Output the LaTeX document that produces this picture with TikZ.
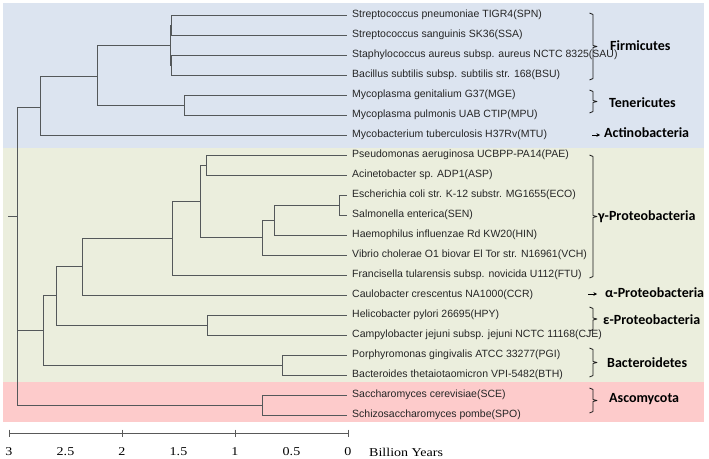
\documentclass[tikz,border=0pt]{standalone}
\usepackage{fontspec}
\setmainfont{Liberation Sans}
\newfontfamily\grpfont{Carlito}
\newfontfamily\axfont{Liberation Serif}[FakeStretch=1.17]
\usepackage{tikz}
\usetikzlibrary{positioning,arrows.meta,calc}
\usepackage{xcolor}
\definecolor{bandblue}{RGB}{220,228,240}
\definecolor{bandgreen}{RGB}{235,238,221}
\definecolor{bandpink}{RGB}{253,203,203}
\definecolor{branchcol}{RGB}{84,88,90}

\begin{document}
\begin{tikzpicture}[x=1pt,y=-1pt,>={Stealth[length=3.5pt,width=3.5pt]},
  branch/.style={draw=branchcol,line width=1pt},
  leaf/.style={anchor=west,inner sep=0pt,font=\fontsize{10.5}{12}\selectfont,text=black!85},
  grp/.style={anchor=west,inner sep=0pt,font=\grpfont\bfseries\fontsize{14}{16}\selectfont},
  grpbrace/.style={draw=black!90,line width=0.8pt,line join=round},
  axline/.style={draw=black!65,line width=0.8pt},
  axlab/.style={inner sep=0pt,font=\axfont\fontsize{12}{14}\selectfont}]
\useasboundingbox (0,0) rectangle (709,458);
% coloured bands
\fill[bandblue] (3,3) rectangle (704,148);
\fill[bandgreen] (3,148) rectangle (704,382);
\fill[bandpink] (3,382) rectangle (704,422);

% leaves
\foreach \id/\txt [count=\i from 0] in {
  spn/Streptococcus pneumoniae TIGR4(SPN),
  ssa/Streptococcus sanguinis SK36(SSA),
  sau/Staphylococcus aureus subsp. aureus NCTC 8325(SAU),
  bsu/Bacillus subtilis subsp. subtilis str. 168(BSU),
  mge/Mycoplasma genitalium G37(MGE),
  mpu/Mycoplasma pulmonis UAB CTIP(MPU),
  mtu/Mycobacterium tuberculosis H37Rv(MTU),
  pae/Pseudomonas aeruginosa UCBPP-PA14(PAE),
  asp/Acinetobacter sp. ADP1(ASP),
  eco/Escherichia coli str. K-12 substr. MG1655(ECO),
  sen/Salmonella enterica(SEN),
  hin/Haemophilus influenzae Rd KW20(HIN),
  vch/Vibrio cholerae O1 biovar El Tor str. N16961(VCH),
  ftu/Francisella tularensis subsp. novicida U112(FTU),
  ccr/Caulobacter crescentus NA1000(CCR),
  hpy/Helicobacter pylori 26695(HPY),
  cje/Campylobacter jejuni subsp. jejuni NCTC 11168(CJE),
  pgi/Porphyromonas gingivalis ATCC 33277(PGI),
  bth/Bacteroides thetaiotaomicron VPI-5482(BTH),
  sce/Saccharomyces cerevisiae(SCE),
  spo/Schizosaccharomyces pombe(SPO)}{
  \coordinate (t\id) at (347,15+20*\i);
  \node[leaf] (\id) at (352,15+20*\i) {\txt};
}

% inner nodes of the tree
\coordinate (spnssa) at (171.5,25);
\coordinate (saubsu) at (171.5,65);
\coordinate (firm) at (170,45);
\coordinate (teneric) at (184,105);
\coordinate (fitene) at (97,76);
\coordinate (bluegrp) at (40,107);
\coordinate (paeasp) at (206,165);
\coordinate (ecosen) at (339,205);
\coordinate (ecohin) at (274,220);
\coordinate (ecovch) at (262,237);
\coordinate (gamone) at (200,201);
\coordinate (gam) at (172,238);
\coordinate (gamccr) at (82,266);
\coordinate (hpycje) at (207,325);
\coordinate (proteo) at (56,295);
\coordinate (pgibth) at (282,365);
\coordinate (bact) at (43,330);
\coordinate (ascom) at (262,405);
\coordinate (root) at (17,216);
\coordinate (base) at (8,216);

\foreach \p/\c in {spnssa/tspn, spnssa/tssa, saubsu/tsau, saubsu/tbsu,
  firm/spnssa, firm/saubsu, teneric/tmge, teneric/tmpu, fitene/firm,
  fitene/teneric, bluegrp/fitene, bluegrp/tmtu, paeasp/tpae, paeasp/tasp,
  ecosen/teco, ecosen/tsen, ecohin/ecosen, ecohin/thin, ecovch/ecohin,
  ecovch/tvch, gamone/paeasp, gamone/ecovch, gam/gamone, gam/tftu,
  gamccr/gam, gamccr/tccr, hpycje/thpy, hpycje/tcje, proteo/gamccr,
  proteo/hpycje, pgibth/tpgi, pgibth/tbth, bact/proteo, bact/pgibth,
  ascom/tsce, ascom/tspo, root/bluegrp, root/bact, root/ascom}
  \draw[branch] (\p) |- (\c);
\draw[branch] (base) -- (root);

% groups
\foreach \top/\bot in {13/80, 90/113, 155/278, 307/331, 348/377, 388/413}
  \draw[grpbrace] (589.5,\top) -- (593,\top+1.5) -- (593,{(\top+\bot)/2-1})
    -- (597,{(\top+\bot)/2}) -- (593,{(\top+\bot)/2+1}) -- (593,\bot-1.5) -- (589.5,\bot);
\node[grp] (firmic) at (610,46) {Firmicutes};
\node[grp] (teneri) at (609,103) {Tenericutes};
\node[grp] (actino) at (604,133) {Actinobacteria};
\node[grp] (gammap) at (598,217) {γ-Proteobacteria};
\node[grp] (alphap) at (605,293) {α-Proteobacteria};
\node[grp] (epsilp) at (603,320) {ε-Proteobacteria};
\node[grp] (bacter) at (607,363) {Bacteroidetes};
\node[grp] (ascomy) at (609,399) {Ascomycota};
\coordinate (actfrom) at (592,135);
\coordinate (actto) at (600,135);
\coordinate (alpfrom) at (588,294);
\coordinate (alpto) at (597,294);
\draw[->,line width=0.8pt] (actfrom) -- (actto);
\draw[->,line width=0.8pt] (alpfrom) -- (alpto);

% time axis
\coordinate (ax3) at (9,433);
\coordinate (ax0) at (348,433);
\draw[axline] (ax3) -- (ax0);
\foreach \v in {0,1,2,3}
  \draw[axline] ($(ax0)+(-113*\v,-3.5)$) -- ++(0,7);
\foreach \v [count=\k] in {3,2.5,2,1.5,1,0.5,0}
  \node[axlab] (lab\k) at (348-113*\v,452) {\v};
\node[axlab,anchor=west] (unit) at (369,452) {Billion Years};
\end{tikzpicture}
\end{document}
